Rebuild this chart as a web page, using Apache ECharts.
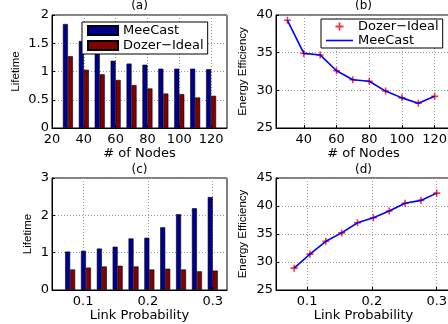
<!DOCTYPE html>
<html><head><meta charset="utf-8">
<script src="https://cdn.jsdelivr.net/npm/echarts@6/dist/echarts.min.js"></script>
<style>html,body{margin:0;padding:0;background:#fff}#c{width:448px;height:324px}</style>
</head><body><div id="c"></div>
<script>
// ---- data ----
const nodes = [30, 40, 50, 60, 70, 80, 90, 100, 110, 120];
const lifetimeMeeCastA = [1.84, 1.54, 1.35, 1.19, 1.14, 1.12, 1.05, 1.05, 1.05, 1.04];
const lifetimeDozerA = [1.27, 1.03, 0.95, 0.85, 0.76, 0.70, 0.61, 0.60, 0.54, 0.57];
const energyDozerB = [39.3, 34.9, 34.7, 32.6, 31.4, 31.2, 29.9, 29.0, 28.3, 29.2];
const energyMeeCastB = [39.3, 34.9, 34.7, 32.6, 31.4, 31.2, 29.9, 29.0, 28.3, 29.2];
const linkProb = [0.08, 0.1044, 0.1289, 0.1533, 0.1778, 0.2022, 0.2267, 0.2511, 0.2756, 0.3];
const lifetimeMeeCastC = [1.03, 1.05, 1.11, 1.16, 1.38, 1.40, 1.68, 2.03, 2.19, 2.49];
const lifetimeDozerC = [0.55, 0.60, 0.63, 0.65, 0.63, 0.55, 0.57, 0.55, 0.50, 0.52];
const energyDozerD = [28.9, 31.4, 33.7, 35.2, 37.0, 37.9, 39.1, 40.5, 41.0, 42.3];
const energyMeeCastD = [28.9, 31.4, 33.7, 35.2, 37.0, 37.9, 39.1, 40.5, 41.0, 42.3];
const nodeTicks = [20, 40, 60, 80, 100, 120];
const nodeTicksB = [40, 60, 80, 100, 120];
const probTicks = [0.1, 0.2, 0.3];
const titles = ['(a)', '(b)', '(c)', '(d)'];

const pairs = (xs, ys) => xs.map((x, i) => [x, ys[i]]);
const TICKFONT = 'DejaVu Sans';
const grid = { show: true, borderColor: '#000', borderWidth: 1, backgroundColor: 'transparent', containLabel: false, outerBoundsMode: 'none' };
const split = { show: true, lineStyle: { color: '#999', type: [1, 2], width: 1 } };

function xAx(gi, min, max, ticks, name) {
  return {
    type: 'value', gridIndex: gi, min: min, max: max,
    name: name, nameLocation: 'middle', nameGap: 16,
    nameTextStyle: { color: '#000', fontFamily: TICKFONT, fontSize: 13 },
    axisLine: { show: true, onZero: false, lineStyle: { color: '#000', width: 1 } },
    axisTick: { show: true, inside: true, length: 3, customValues: ticks, lineStyle: { color: '#000' } },
    axisLabel: { customValues: ticks, color: '#000', fontFamily: TICKFONT, fontSize: 13, margin: 5 },
    splitLine: split
  };
}
function yAx(gi, min, max, interval, name, gap) {
  return {
    type: 'value', gridIndex: gi, min: min, max: max, interval: interval,
    name: name, nameLocation: 'middle', nameGap: gap, nameRotate: 90,
    nameTextStyle: { color: '#000', fontFamily: 'Liberation Sans', fontSize: 11.5 },
    axisLine: { show: true, onZero: false, lineStyle: { color: '#000', width: 1 } },
    axisTick: { show: true, inside: true, length: 3, lineStyle: { color: '#000' } },
    axisLabel: { color: '#000', fontFamily: TICKFONT, fontSize: 13, margin: 3 },
    splitLine: split
  };
}
const plusPath = 'path://M-0.9,-4H0.9V-0.9H4V0.9H0.9V4H-0.9V0.9H-4V-0.9H-0.9Z';
const lineIcon = 'path://M0,0H270V16H0Z';
function bar(name, gi, xs, ys, color) {
  return { type: 'bar', name: name, xAxisIndex: gi, yAxisIndex: gi, data: pairs(xs, ys),
    barWidth: 5, barGap: '0%', itemStyle: { color: color, borderColor: '#000', borderWidth: 0.6 } };
}
function marks(name, gi, xs, ys) {
  return { type: 'scatter', name: name, xAxisIndex: gi, yAxisIndex: gi, data: pairs(xs, ys),
    symbol: plusPath, symbolSize: 7, itemStyle: { color: '#ff0000' } };
}
function line(name, gi, xs, ys) {
  return { type: 'line', name: name, xAxisIndex: gi, yAxisIndex: gi, data: pairs(xs, ys),
    symbol: 'none', lineStyle: { color: '#0000ff', width: 1.6 }, itemStyle: { color: '#0000ff' } };
}

const chart = echarts.init(document.getElementById('c'), null, { renderer: 'canvas' });
const titleX = [139.5, 363.5, 139.5, 363.5];
const titleY = [0, 0, 164, 164];
chart.setOption({
  animation: false,
  backgroundColor: '#fff',
  grid: [
    Object.assign({ left: 52, top: 15, width: 175, height: 113 }, grid),
    Object.assign({ left: 276, top: 15, width: 175, height: 113 }, grid),
    Object.assign({ left: 52, top: 178, width: 175, height: 112 }, grid),
    Object.assign({ left: 276, top: 178, width: 175, height: 112 }, grid)
  ],
  xAxis: [
    xAx(0, 20, 130, nodeTicks, '# of Nodes'),
    xAx(1, 23, 130, nodeTicksB, '# of Nodes'),
    xAx(2, 0.052, 0.322, probTicks, 'Link Probability'),
    xAx(3, 0.052, 0.322, probTicks, 'Link Probability')
  ],
  yAxis: [
    yAx(0, 0, 2, 0.5, 'Lifetime', 30),
    yAx(1, 25, 40, 5, 'Energy Efficiency', 27),
    yAx(2, 0, 3, 1, 'Lifetime', 18),
    yAx(3, 25, 45, 5, 'Energy Efficiency', 27)
  ],
  legend: [
    { data: ['MeeCast|a', 'Dozer−Ideal|a'], formatter: n => n.split('|')[0], orient: 'vertical',
      left: 82, top: 22, padding: [2, 4, 2, 5], itemGap: 2, itemWidth: 30, itemHeight: 9, icon: 'rect',
      borderColor: '#000', borderWidth: 1, backgroundColor: '#fff', selectedMode: false,
      textStyle: { color: '#000', fontFamily: TICKFONT, fontSize: 13 } },
    { data: ['Dozer−Ideal|b', { name: 'MeeCast|b', icon: lineIcon }], formatter: n => n.split('|')[0], orient: 'vertical',
      left: 321, top: 19, padding: [1, 4, 1, 5], itemGap: 1, itemWidth: 27, itemHeight: 8,
      borderColor: '#000', borderWidth: 1, backgroundColor: '#fff', selectedMode: false,
      textStyle: { color: '#000', fontFamily: TICKFONT, fontSize: 13 } }
  ],
  graphic: titles.map((t, i) => ({ type: 'text', x: titleX[i], y: titleY[i],
    style: { text: t, fill: '#000', font: '12px "DejaVu Sans"', textAlign: 'center', textVerticalAlign: 'top' } })),
  series: [
    bar('MeeCast|a', 0, nodes, lifetimeMeeCastA, '#00008f'),
    bar('Dozer−Ideal|a', 0, nodes, lifetimeDozerA, '#800000'),
    marks('Dozer−Ideal|b', 1, nodes, energyDozerB),
    line('MeeCast|b', 1, nodes, energyMeeCastB),
    bar('MeeCast|c', 2, linkProb, lifetimeMeeCastC, '#00008f'),
    bar('Dozer−Ideal|c', 2, linkProb, lifetimeDozerC, '#800000'),
    marks('Dozer−Ideal|d', 3, linkProb, energyDozerD),
    line('MeeCast|d', 3, linkProb, energyMeeCastD)
  ]
});
</script>
</body></html>
